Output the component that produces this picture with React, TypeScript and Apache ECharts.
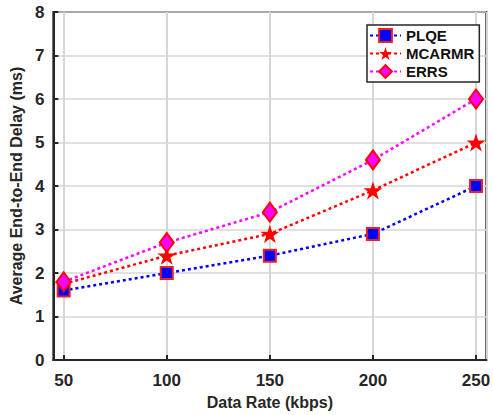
import React, { useEffect, useRef } from "react";
import * as echarts from "echarts";

const dataRates = [50, 100, 150, 200, 250];
const plqe = [1.6, 2.0, 2.4, 2.9, 4.0];
const mcarmr = [1.75, 2.4, 2.9, 3.9, 5.0];
const errs = [1.8, 2.7, 3.4, 4.6, 6.0];
const xRange = [45, 255];
const yRange = [0, 8];
const seriesNames = ["PLQE", "MCARMR", "ERRS"];

const STAR =
  "path://M100,0 L122.45,69.1 L195.1,69.1 L136.3,111.8 L158.8,180.9 L100,138.2 L41.2,180.9 L63.7,111.8 L4.9,69.1 L77.55,69.1 Z";

const FONT = "Liberation Sans, Arial, sans-serif";
const AXIS_COLOR = "#262626";
const GRID_COLOR = "#d6d6d6";

export default function App() {
  const ref = useRef<HTMLDivElement>(null);
  useEffect(() => {
    if (!ref.current) return;
    const chart = echarts.init(ref.current, undefined, { renderer: "svg" });
    const pair = (ys: number[]) => dataRates.map((x, i) => [x, ys[i]]);
    const baseLine = (color: string) => ({
      color,
      width: 2.5,
      type: [3, 3] as any,
    });
    chart.setOption({
      animation: false,
      grid: {
        left: 45,
        right: 3,
        top: 12,
        bottom: 52,
        show: true,
        borderColor: AXIS_COLOR,
        borderWidth: 2,
      },
      legend: {
        orient: "vertical",
        left: 367,
        top: 25,
        padding: [3, 5, 3, 2],
        itemGap: 3,
        itemWidth: 31,
        itemHeight: 16,
        backgroundColor: "#ffffff",
        borderColor: AXIS_COLOR,
        borderWidth: 1.5,
        textStyle: { fontFamily: FONT, fontWeight: "bold", fontSize: 15, color: "#111" },
        data: seriesNames,
      },
      xAxis: {
        type: "value",
        min: xRange[0],
        max: xRange[1],
        splitNumber: 4,
        name: "Data Rate (kbps)",
        nameLocation: "middle",
        nameGap: 29,
        nameTextStyle: { fontFamily: FONT, fontWeight: "bold", fontSize: 16, color: "#262626" },
        axisLine: { show: true, lineStyle: { color: AXIS_COLOR, width: 2 } },
        axisTick: { show: true, inside: true, length: 5, lineStyle: { color: AXIS_COLOR, width: 2 } },
        axisLabel: { showMinLabel: false, showMaxLabel: false, margin: 12, fontFamily: FONT, fontWeight: "bold", fontSize: 17, color: "#262626" },
        splitLine: { show: true, lineStyle: { color: GRID_COLOR, width: 2, type: "solid" } },
      },
      yAxis: {
        type: "value",
        min: yRange[0],
        max: yRange[1],
        interval: 1,
        name: "Average End-to-End Delay (ms)",
        nameLocation: "middle",
        nameGap: 22,
        nameTextStyle: { fontFamily: FONT, fontWeight: "bold", fontSize: 16, color: "#262626" },
        axisLine: { show: true, lineStyle: { color: AXIS_COLOR, width: 2 } },
        axisTick: { show: true, inside: true, length: 5, lineStyle: { color: AXIS_COLOR, width: 2 } },
        axisLabel: { margin: 9, fontFamily: FONT, fontWeight: "bold", fontSize: 17, color: "#262626" },
        splitLine: { show: true, lineStyle: { color: GRID_COLOR, width: 1.5 } },
      },
      series: [
        {
          name: "PLQE",
          type: "line",
          data: pair(plqe),
          symbol: "rect",
          symbolSize: 12,
          lineStyle: baseLine("#0000ff"),
          itemStyle: { color: "#0000ff", borderColor: "#e8202a", borderWidth: 2 },
          z: 4,
        },
        {
          name: "MCARMR",
          type: "line",
          data: pair(mcarmr),
          symbol: STAR,
          symbolSize: [19, 18],
          lineStyle: baseLine("#ff0000"),
          itemStyle: { color: "#ff0000", borderColor: "#ff0000", borderWidth: 0 },
          z: 3,
        },
        {
          name: "ERRS",
          type: "line",
          data: pair(errs),
          symbol: "diamond",
          symbolSize: [14, 19],
          lineStyle: baseLine("#ff00ff"),
          itemStyle: { color: "#ff00ff", borderColor: "#ff0000", borderWidth: 2 },
          z: 5,
        },
      ],
    });
    return () => chart.dispose();
  }, []);
  return <div ref={ref} style={{ width: 493, height: 415, position: "absolute", left: 0, top: 0, background: "#ffffff" }} />;
}
